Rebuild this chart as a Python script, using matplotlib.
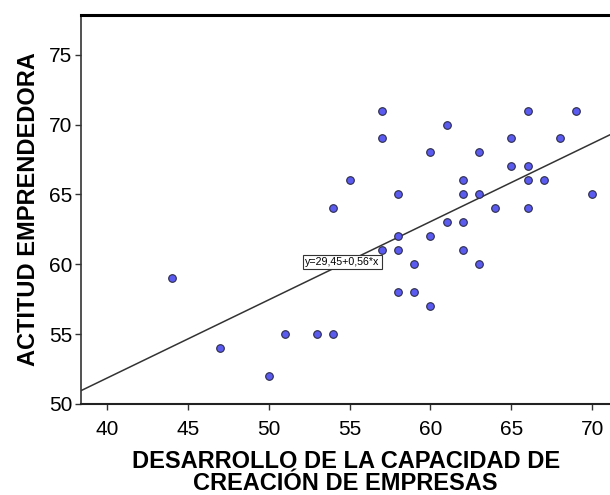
import numpy as np
import matplotlib
matplotlib.use("Agg")
import matplotlib.pyplot as plt

# -------- DATA --------
x_vals = [44, 47, 50, 51, 53, 54, 54, 55, 57, 57, 57, 58, 58, 58, 58, 59, 59,
          60, 60, 60, 61, 61, 62, 62, 62, 62, 63, 63, 63, 64, 65, 65, 66, 66,
          66, 66, 67, 68, 69, 70]
y_vals = [59, 54, 52, 55, 55, 55, 64, 66, 71, 69, 61, 65, 62, 61, 58, 60, 58,
          68, 62, 57, 70, 63, 66, 65, 63, 61, 68, 65, 60, 64, 69, 67, 71, 67,
          66, 64, 66, 69, 71, 65]
intercept = 29.45
slope = 0.56
fit_label = "y=29,45+0,56*x"
x_ticks = [40, 45, 50, 55, 60, 65, 70]
y_ticks = [50, 55, 60, 65, 70, 75]
# ----------------------

plt.rcParams["font.family"] = ["Liberation Sans", "DejaVu Sans"]


def main():
    fig = plt.figure(figsize=(6.1, 4.95), dpi=100)
    ax = fig.add_axes([0.133, 0.184, 0.867, 0.786])

    xlim = (38.4, 71.1)
    ylim = (50, 77.85)

    # regression line
    xs = np.array(xlim)
    ax.plot(xs, intercept + slope * xs, color="#333333", lw=1.1, zorder=2)

    # points
    ax.scatter(x_vals, y_vals, s=30, color="#5b5bef", edgecolor="#2a2a4a",
               linewidth=0.8, zorder=3)

    # equation label
    ax.text(52.25, 60.15, fit_label, fontsize=7.7, va="center", ha="left",
            bbox=dict(boxstyle="square,pad=0.2", fc="white", ec="#333333", lw=0.8),
            zorder=4)

    ax.set_xlim(*xlim)
    ax.set_ylim(*ylim)
    ax.set_xticks(x_ticks)
    ax.set_yticks(y_ticks)
    ax.tick_params(labelsize=15, length=4.5, width=1, color="#333333")
    ax.tick_params(axis="x", pad=7)
    ax.tick_params(axis="y", pad=2)

    ax.spines["right"].set_visible(False)
    ax.spines["top"].set_linewidth(2.2)
    ax.spines["top"].set_color("black")
    ax.spines["left"].set_linewidth(1.2)
    ax.spines["left"].set_color("#333333")
    ax.spines["bottom"].set_linewidth(1.5)
    ax.spines["bottom"].set_color("#222222")

    ax.set_xlabel("DESARROLLO DE LA CAPACIDAD DE\nCREACIÓN DE EMPRESAS",
                  fontsize=17, fontweight="bold", linespacing=0.95, labelpad=8)
    ax.set_ylabel("ACTITUD EMPRENDEDORA", fontsize=17, fontweight="bold",
                  labelpad=6)

    fig.savefig("out.png", dpi=100)


if __name__ == "__main__":
    main()
